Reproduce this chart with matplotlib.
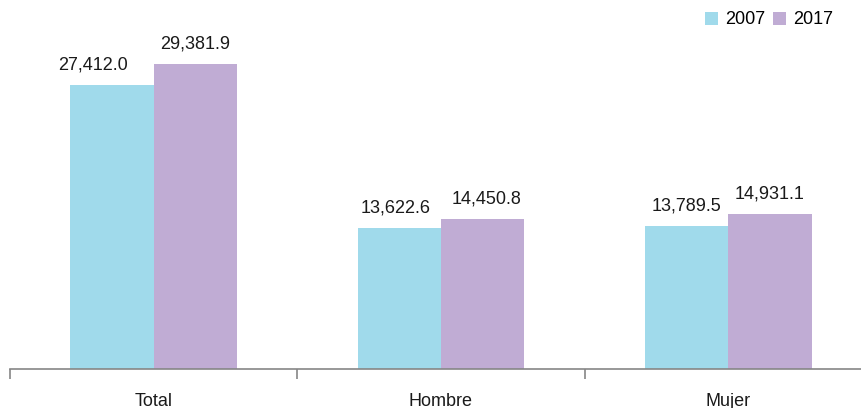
import matplotlib.pyplot as plt
import numpy as np
from matplotlib.patches import Patch

plt.rcParams["font.family"] = ["Liberation Sans", "DejaVu Sans"]

categories = ["Total", "Hombre", "Mujer"]
years = ["2007", "2017"]
values_2007 = [27412.0, 13622.6, 13789.5]
values_2017 = [29381.9, 14450.8, 14931.1]

colors = ["#A0DAEB", "#C0ACD4"]
# small horizontal nudges of the value labels (points), as in the original
label_shift = {(0, 0): -14, (1, 0): -3, (1, 1): 3}

fig = plt.figure(figsize=(8.61, 4.08), dpi=100)
ax = fig.add_axes([10 / 861, 39 / 408, 862 / 861, 363 / 408])

x = np.arange(len(categories))
width = 0.29
for i, (vals, color) in enumerate(zip([values_2007, values_2017], colors)):
    pos = x + (i - 0.5) * width
    ax.bar(pos, vals, width, color=color, edgecolor="none")
    for j, (px, v) in enumerate(zip(pos, vals)):
        ax.annotate(
            f"{v:,.1f}",
            (px, v),
            xytext=(label_shift.get((j, i), 0), 11),
            textcoords="offset points",
            ha="center",
            va="baseline",
            fontsize=13,
            color="#1a1a1a",
        )

ax.set_xlim(-0.5, 2.5)
ax.set_ylim(0, 35000)
ax.set_yticks([])
for side in ["left", "right", "top"]:
    ax.spines[side].set_visible(False)
ax.spines["bottom"].set_color("#868686")
ax.spines["bottom"].set_linewidth(1.2)

ax.set_xticks(x)
ax.set_xticklabels(categories, fontsize=13)
ax.tick_params(axis="x", which="major", length=0, pad=17, colors="#1a1a1a")
ax.set_xticks([-0.5, 0.5, 1.5], minor=True)
ax.tick_params(axis="x", which="minor", length=7, width=1.2, color="#868686")

handles = [Patch(facecolor=c, edgecolor="none") for c in colors]
fig.legend(
    handles,
    years,
    loc="center right",
    bbox_to_anchor=(842 / 861, 1 - 20 / 408),
    ncol=2,
    frameon=False,
    fontsize=13,
    handlelength=0.72,
    handleheight=0.72,
    handletextpad=0.4,
    columnspacing=0.4,
    borderpad=0,
)

fig.savefig("out.png", dpi=100)
